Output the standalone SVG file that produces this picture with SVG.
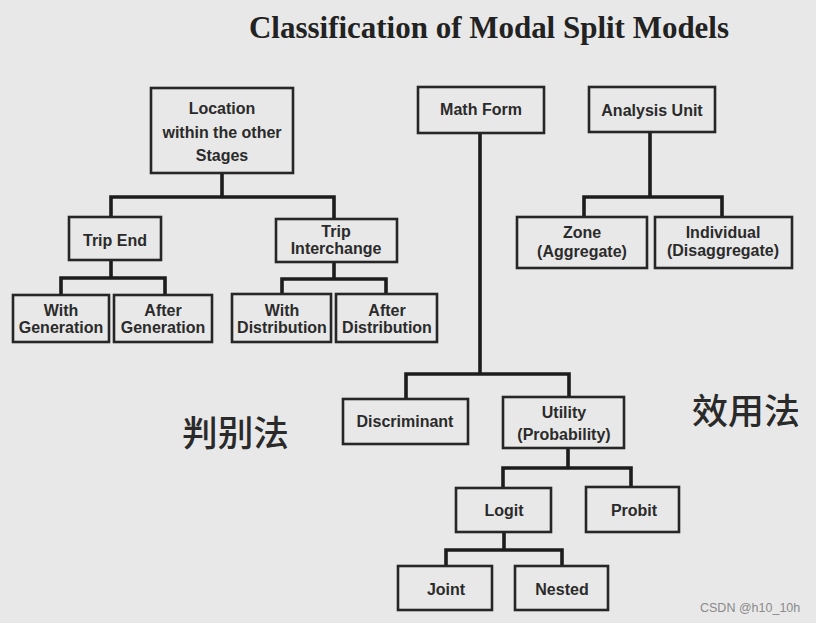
<svg xmlns="http://www.w3.org/2000/svg" width="816" height="623" viewBox="0 0 816 623">
<style>
.bg{fill:#e8e8e8}
.box{fill:none;stroke:#262626;stroke-width:2.6}
.lbl{font-family:"Liberation Sans",Arial,sans-serif;font-weight:bold;font-size:16px;fill:#2b2b2b;text-anchor:middle}
.con{fill:none;stroke:#1c1c1c;stroke-width:3.6;stroke-linejoin:miter}
.title{font-family:"Liberation Serif","Times New Roman",serif;font-weight:bold;font-size:31px;fill:#222}
.cjk{font-family:"Noto Sans CJK SC","Noto Sans CJK JP",sans-serif;font-size:35px;font-weight:500;fill:#2a2a2a}
.wm{font-family:"Liberation Sans",Arial,sans-serif;font-size:12.5px;fill:#8a8a8a}
</style>
<rect class="bg" x="0" y="0" width="816" height="623"/>
<text class="title" x="249" y="38" textLength="480" lengthAdjust="spacingAndGlyphs">Classification of Modal Split Models</text>

<g id="connectors">
<path class="con" d="M222,173 V197 M111,217 V197 H334 V219"/>
<path class="con" d="M111,260 V278 M61,295 V278 H165 V295"/>
<path class="con" d="M334,262 V279 M282,294 V279 H386 V294"/>
<path class="con" d="M650,132 V197 M584,217 V197 H722 V217"/>
<path class="con" d="M480,133 V374 M406,399 V374 H569 V397"/>
<path class="con" d="M568,448 V468 M503,488 V468 H631 V488"/>
<path class="con" d="M504,532 V550 M446,566 V550 H562 V566"/>
</g>

<g id="location">
<rect class="box" x="151" y="88" width="142" height="85"/>
<text class="lbl" x="222" y="114">Location</text>
<text class="lbl" x="222" y="138">within the other</text>
<text class="lbl" x="222" y="161">Stages</text>
</g>
<g id="trip-end">
<rect class="box" x="69" y="217" width="92" height="43"/>
<text class="lbl" x="115" y="246">Trip End</text>
</g>
<g id="trip-interchange">
<rect class="box" x="276" y="219" width="121" height="43"/>
<text class="lbl" x="336" y="237">Trip</text>
<text class="lbl" x="336" y="254">Interchange</text>
</g>
<g id="with-generation">
<rect class="box" x="13" y="295" width="96" height="47"/>
<text class="lbl" x="61" y="316">With</text>
<text class="lbl" x="61" y="333">Generation</text>
</g>
<g id="after-generation">
<rect class="box" x="114" y="295" width="98" height="47"/>
<text class="lbl" x="163" y="316">After</text>
<text class="lbl" x="163" y="333">Generation</text>
</g>
<g id="with-distribution">
<rect class="box" x="232" y="294" width="99" height="48"/>
<text class="lbl" x="282" y="316">With</text>
<text class="lbl" x="282" y="333">Distribution</text>
</g>
<g id="after-distribution">
<rect class="box" x="336" y="294" width="101" height="48"/>
<text class="lbl" x="387" y="316">After</text>
<text class="lbl" x="387" y="333">Distribution</text>
</g>
<g id="math-form">
<rect class="box" x="418" y="87" width="126" height="46"/>
<text class="lbl" x="481" y="115">Math Form</text>
</g>
<g id="analysis-unit">
<rect class="box" x="589" y="87" width="126" height="45"/>
<text class="lbl" x="652" y="116">Analysis Unit</text>
</g>
<g id="zone">
<rect class="box" x="517" y="217" width="130" height="51"/>
<text class="lbl" x="582" y="238">Zone</text>
<text class="lbl" x="582" y="257">(Aggregate)</text>
</g>
<g id="individual">
<rect class="box" x="655" y="217" width="137" height="51"/>
<text class="lbl" x="723" y="238">Individual</text>
<text class="lbl" x="723" y="256">(Disaggregate)</text>
</g>
<g id="discriminant">
<rect class="box" x="343" y="399" width="125" height="45"/>
<text class="lbl" x="405" y="427">Discriminant</text>
</g>
<g id="utility">
<rect class="box" x="503" y="397" width="121" height="51"/>
<text class="lbl" x="564" y="418">Utility</text>
<text class="lbl" x="564" y="440">(Probability)</text>
</g>
<g id="logit">
<rect class="box" x="456" y="488" width="95" height="44"/>
<text class="lbl" x="504" y="516">Logit</text>
</g>
<g id="probit">
<rect class="box" x="586" y="487" width="93" height="45"/>
<text class="lbl" x="634" y="516">Probit</text>
</g>
<g id="joint">
<rect class="box" x="398" y="566" width="94" height="44"/>
<text class="lbl" x="446" y="595">Joint</text>
</g>
<g id="nested">
<rect class="box" x="515" y="566" width="93" height="44"/>
<text class="lbl" x="562" y="595">Nested</text>
</g>

<text class="cjk" x="182" y="446" textLength="107" lengthAdjust="spacingAndGlyphs">判别法</text>
<text class="cjk" x="692" y="424" textLength="108" lengthAdjust="spacingAndGlyphs">效用法</text>
<text class="wm" x="700" y="612">CSDN @h10_10h</text>
</svg>
